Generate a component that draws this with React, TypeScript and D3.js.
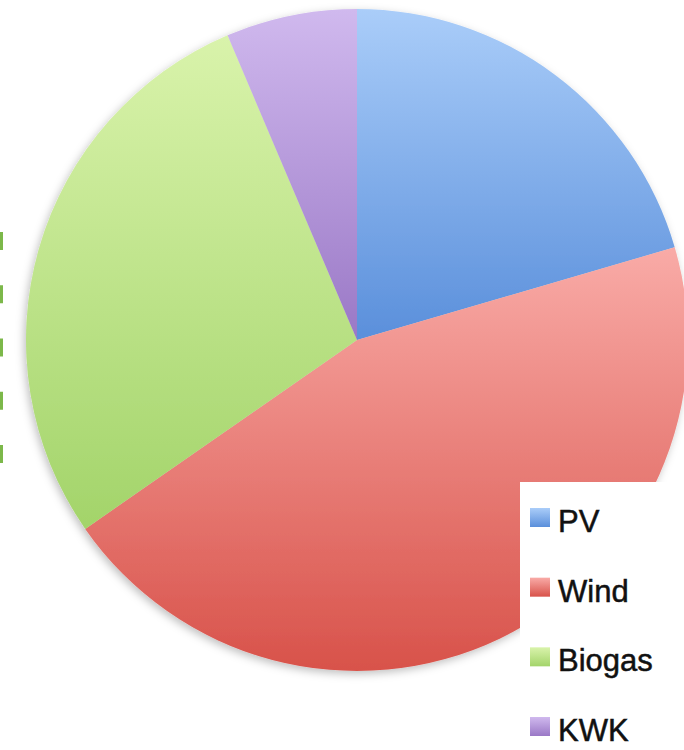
import React from "react";
import * as d3 from "d3";

const categories = ["PV", "Wind", "Biogas", "KWK"];
const shares = [20.5, 44.9, 28.3, 6.4];
const colorTop = ["#aacdf9", "#f9aba7", "#d9f3ab", "#d0b9ee"];
const colorBottom = ["#5a8fdb", "#d8524a", "#a3d46a", "#9a78c6"];
const leftTicks = [0, 1, 2, 3, 4];

const W = 684;
const H = 750;
const cx = 357;
const cy = 340;
const R = 331;

export default function App() {
  const pie = d3
    .pie<number>()
    .sort(null)
    .value((d) => d)(shares);
  const arc = d3.arc<d3.PieArcDatum<number>>().innerRadius(0).outerRadius(R);

  const legendX = 520;
  const legendY = 482;
  const rowY = d3.scalePoint<string>().domain(categories).range([517, 726]);

  const tickY = d3.scaleLinear().domain([0, 4]).range([241, 454]);

  return (
    <svg
      width={W}
      height={H}
      style={{ position: "absolute", left: 0, top: 0, background: "#fff" }}
    >
      <defs>
        {categories.map((c, i) => (
          <linearGradient key={c} id={`g${i}`} x1="0" y1="0" x2="0" y2="1">
            <stop offset="0%" stopColor={colorTop[i]} />
            <stop offset="100%" stopColor={colorBottom[i]} />
          </linearGradient>
        ))}
        <filter id="shadow" x="-10%" y="-10%" width="120%" height="120%">
          <feDropShadow dx="-2" dy="3" stdDeviation="4" floodColor="#000" floodOpacity="0.25" />
        </filter>
      </defs>
      {leftTicks.map((t) => (
        <rect key={t} x={0} y={tickY(t) - 9} width={3} height={18} fill="#7cb84a" />
      ))}
      <g transform={`translate(${cx},${cy})`} filter="url(#shadow)">
        {pie.map((p, i) => (
          <path key={categories[i]} d={arc(p) || ""} fill={`url(#g${i})`} />
        ))}
      </g>
      <rect x={legendX} y={legendY} width={W - legendX} height={H - legendY} fill="#fff" />
      {categories.map((c, i) => {
        const y = rowY(c) as number;
        return (
          <g key={c}>
            <rect x={530} y={y - 9} width={20} height={19} fill={`url(#g${i})`} />
            <text
              x={558}
              y={y + 15}
              fontFamily="Liberation Sans, Arial, sans-serif"
              fontSize={31}
              fill="#111"
              stroke="#111"
              strokeWidth={0.5}
            >
              {c}
            </text>
          </g>
        );
      })}
    </svg>
  );
}
